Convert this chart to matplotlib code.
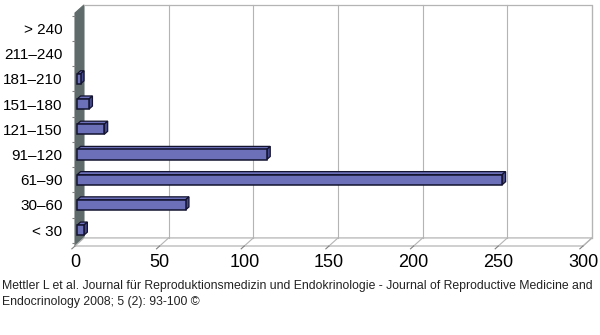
import matplotlib
matplotlib.use("Agg")
import matplotlib.pyplot as plt
from matplotlib.patches import Polygon
import numpy as np

"""Chart data"""
categories = ["< 30", "30\u201360", "61\u201390", "91\u2013120", "121\u2013150",
              "151\u2013180", "181\u2013210", "211\u2013240", "> 240"]
counts = [4, 64, 251, 112, 16, 7, 2, 0, 0]
xticks = [0, 50, 100, 150, 200, 250, 300]
caption = ("Mettler L et al. Journal f\u00fcr Reproduktionsmedizin und Endokrinologie - "
           "Journal of Reproductive Medicine and\nEndocrinology 2008; 5 (2): 93-100 \u00a9")

"""Style constants"""
BAR_FACE = "#6b70b8"
BAR_SIDE = "#454a8c"
BAR_EDGE = "#141430"
WALL = "#5f6b6b"
GRID = "#b4b4b4"
XMAX = 300
YLO, YHI = -0.63, 8.61
DX, DY = 5.3, 0.32       # depth of the 3D box, data units
BDX, BDY = 2.0, 0.12     # depth of one bar
BSHIFT = 1.3             # bars sit a bit behind the front edge
H = 0.4

plt.rcParams["font.family"] = ["Liberation Sans", "DejaVu Sans"]

fig = plt.figure(figsize=(6, 3.35), dpi=100)
ax = fig.add_axes([75 / 600, 89 / 335, 508 / 600, 233 / 335])
ax.set_xlim(0, XMAX)
ax.set_ylim(YLO, YHI)
for s in ax.spines.values():
    s.set_visible(False)

"""Box: left wall, floor, back wall and grid"""
ax.add_patch(Polygon([(0, YLO), (DX, YLO + DY), (DX, YHI + DY), (0, YHI)],
                     closed=True, fc=WALL, ec=WALL, lw=0.8, clip_on=False, zorder=1))
ax.add_patch(Polygon([(0, YLO), (XMAX, YLO), (XMAX + DX, YLO + DY), (DX, YLO + DY)],
                     closed=True, fc="white", ec=GRID, lw=0.9, clip_on=False, zorder=1))
ax.plot([DX, XMAX + DX, XMAX + DX], [YHI + DY, YHI + DY, YLO + DY],
        color=GRID, lw=0.9, clip_on=False, zorder=1)
for xv in xticks[1:]:
    ax.plot([xv + DX, xv + DX], [YLO + DY, YHI + DY], color=GRID, lw=0.8,
            clip_on=False, zorder=1)
    ax.plot([xv, xv + DX], [YLO, YLO + DY], color=GRID, lw=0.8, clip_on=False, zorder=1)
for xv in xticks:
    ax.plot([xv, xv - DX * 0.35], [YLO, YLO - DY * 0.35], color="#808080", lw=0.8,
            clip_on=False, zorder=1)

"""Bars with small 3D faces"""
ypos = np.arange(len(categories))
edges = [BAR_EDGE if v > 0 else "none" for v in counts]
ax.barh(ypos, counts, height=H, left=BSHIFT, color=BAR_FACE, edgecolor=edges,
        linewidth=1.1, zorder=3)
for y, v in zip(ypos, counts):
    if v <= 0:
        continue
    x0, x1 = BSHIFT, BSHIFT + v
    top = y + H / 2
    bot = y - H / 2
    ax.add_patch(Polygon([(x0, top), (x1, top), (x1 + BDX, top + BDY), (x0 + BDX, top + BDY)],
                         closed=True, fc=BAR_FACE, ec=BAR_EDGE, lw=0.9, zorder=2))
    ax.add_patch(Polygon([(x1, bot), (x1 + BDX, bot + BDY), (x1 + BDX, top + BDY), (x1, top)],
                         closed=True, fc=BAR_SIDE, ec=BAR_EDGE, lw=0.9, zorder=2))

"""Axis labels"""
ax.set_yticks(ypos)
ax.set_yticklabels(categories, fontsize=11)
ax.set_yticks(np.arange(len(categories) + 1) - 0.5, minor=True)
ax.tick_params(axis="y", which="major", length=0, pad=9)
ax.tick_params(axis="y", which="minor", length=2.5, color="#808080", width=0.8)
ax.set_xticks(xticks)
ax.set_xticklabels([str(t) for t in xticks], fontsize=13)
ax.tick_params(axis="x", length=0, pad=6)

fig.text(0.003, 0.165, caption, fontsize=8.8, color="#222222", va="top", linespacing=1.45)

fig.savefig("out.png", dpi=100, facecolor="white")
